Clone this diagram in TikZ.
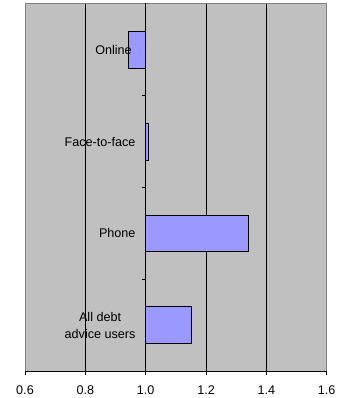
\documentclass[tikz,border=0pt]{standalone}
\usepackage{fontspec}
\setmainfont{Liberation Sans}
\definecolor{plotbg}{HTML}{C0C0C0}
\definecolor{plotframe}{HTML}{808080}
\definecolor{barfill}{HTML}{9999FF}
\begin{document}
\begin{tikzpicture}[x=0.75pt,y=-0.75pt,
  lbl/.style={font=\fontsize{9.45}{12.2}\selectfont,inner sep=0pt,align=center},
  grid/.style={black,line width=0.75pt},
  axisline/.style={black,line width=0.75pt},
  bar/.style={fill=barfill,draw=black,line width=0.75pt}]
\useasboundingbox (0,0) rectangle (337,398);
% plot area
\fill[plotbg] (25,4) rectangle (326.7,371);
\draw[plotframe,line width=0.75pt] (25,371) -- (25,4) -- (326.7,4) -- (326.7,371);
% gridlines
\foreach \v in {0.8,1.2,1.4}{
  \pgfmathsetmacro\px{25+(\v-0.6)*301.7}
  \draw[grid] (\px,4) -- (\px,371);
}
% bars (value axis position: 25+(v-0.6)*301.7)
\pgfmathsetmacro\xone{25+0.4*301.7}
\draw[bar] (\xone,31.7) rectangle (128.8,68.3);
\draw[bar] (\xone,123.4) rectangle (148.4,160.1);
\draw[bar] (\xone,215.1) rectangle (248.9,251.8);
\draw[bar] (\xone,306.9) rectangle (191.3,343.6);
% category axis
\draw[axisline] (\xone,3) -- (\xone,371);
\foreach \y in {95.75,187.5,279.25}{
  \draw[axisline] (\xone-4,\y) -- (\xone,\y);
}
% value axis
\draw[axisline] (25,371) -- (326.7,371);
\foreach \v/\t [count=\i] in {0.6/0.6,0.8/0.8,1.0/1.0,1.2/1.2,1.4/1.4,1.6/1.6}{
  \pgfmathsetmacro\px{25+(\v-0.6)*301.7}
  \draw[axisline] (\px,371) -- (\px,374.5);
  \node[lbl] (tick\i) at (\px,390) {\t};
}
% category labels
\node[lbl,anchor=east] (online) at (132,49.9) {Online};
\node[lbl,anchor=east] (face) at (135.7,141.6) {Face-to-face};
\node[lbl,anchor=east] (phone) at (135.7,233.4) {Phone};
\node[lbl,anchor=east] (all) at (135.7,325.5) {All debt\\advice users};
\end{tikzpicture}
\end{document}
